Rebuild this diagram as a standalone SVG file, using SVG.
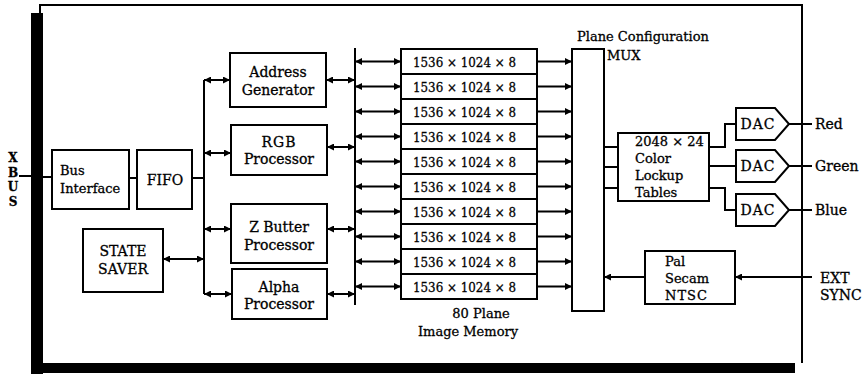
<svg xmlns="http://www.w3.org/2000/svg" width="863" height="374" viewBox="0 0 863 374">
<style>
  .bg{fill:#fff}
  .box{fill:#fff;stroke:#000;stroke-width:2}
  .ln{fill:none;stroke:#000;stroke-width:2}
  .t{font-family:"DejaVu Serif","Liberation Serif",serif;font-size:14px;fill:#000;stroke:#000;stroke-width:0.3}
  .c{text-anchor:middle}
  .m{font-size:13.5px}
  .s{font-size:13px}
  .x{font-size:12px;font-weight:bold}
  .bi{marker-start:url(#ah);marker-end:url(#ah)}
  .one{marker-end:url(#ah)}
</style>
<defs>
  <marker id="ah" viewBox="0 0 10 10" refX="10" refY="5" markerWidth="7" markerHeight="7" markerUnits="userSpaceOnUse" orient="auto-start-reverse">
    <path d="M0,0 L10,5 L0,10 z" fill="#000"/>
  </marker>
</defs>
<rect class="bg" x="0" y="0" width="863" height="374"/>

<g id="frame">
  <path class="ln" d="M40,13 V5 H802 V363"/>
  <rect x="31" y="13" width="12" height="361" fill="#000"/>
  <rect x="31" y="363" width="764" height="10" fill="#000"/>
</g>

<g id="xbus-label">
  <text class="t c x" x="13" y="162">X</text>
  <text class="t c x" x="13" y="176.5">B</text>
  <text class="t c x" x="13" y="191">U</text>
  <text class="t c x" x="13" y="205.5">S</text>
</g>

<g id="connectors">
  <path class="ln" d="M19,176 H31"/>
  <path class="ln" d="M43,177 H52"/>
  <path class="ln" d="M129,178 H137"/>
  <path class="ln" d="M192,178 H204"/>
  <path class="ln" d="M204,80 V294"/>
  <path class="ln bi" d="M204,80 H230"/>
  <path class="ln bi" d="M204,153 H231"/>
  <path class="ln bi" d="M204,229 H231"/>
  <path class="ln bi" d="M204,294 H232"/>
  <path class="ln bi" d="M163,259 H204"/>
  <path class="ln" d="M355,48 V305"/>
  <path class="ln bi" d="M326,80 H355"/>
  <path class="ln bi" d="M327,147 H355"/>
  <path class="ln bi" d="M327,229 H355"/>
  <path class="ln bi" d="M327,294 H355"/>
  <path class="ln bi" d="M355,61.5 H401"/>
  <path class="ln bi" d="M355,86.5 H401"/>
  <path class="ln bi" d="M355,111.5 H401"/>
  <path class="ln bi" d="M355,136.5 H401"/>
  <path class="ln bi" d="M355,161.5 H401"/>
  <path class="ln bi" d="M355,186.5 H401"/>
  <path class="ln bi" d="M355,211.5 H401"/>
  <path class="ln bi" d="M355,236.5 H401"/>
  <path class="ln bi" d="M355,261.5 H401"/>
  <path class="ln bi" d="M355,286.5 H401"/>
  <path class="ln one" d="M537,61.5 H572"/>
  <path class="ln one" d="M537,86.5 H572"/>
  <path class="ln one" d="M537,111.5 H572"/>
  <path class="ln one" d="M537,136.5 H572"/>
  <path class="ln one" d="M537,161.5 H572"/>
  <path class="ln one" d="M537,186.5 H572"/>
  <path class="ln one" d="M537,211.5 H572"/>
  <path class="ln one" d="M537,236.5 H572"/>
  <path class="ln one" d="M537,261.5 H572"/>
  <path class="ln one" d="M537,286.5 H572"/>
  <path class="ln" d="M604,147 H618"/>
  <path class="ln" d="M604,167 H618"/>
  <path class="ln" d="M604,188 H618"/>
  <path class="ln" d="M709,147 H725 V124 H736"/>
  <path class="ln" d="M709,166 H736"/>
  <path class="ln" d="M709,188 H725 V210 H736"/>
  <path class="ln" d="M789,124 H812"/>
  <path class="ln" d="M789,166 H812"/>
  <path class="ln" d="M789,210 H812"/>
  <path class="ln one" d="M812,277 H735"/>
  <path class="ln one" d="M645,277 H604"/>
</g>

<g id="bus-interface">
  <rect class="box" x="52" y="150" width="77" height="59"/>
  <text class="t s" x="60" y="175">Bus</text>
  <text class="t s" x="60" y="193">Interface</text>
</g>
<g id="fifo">
  <rect class="box" x="137" y="150" width="55" height="59"/>
  <text class="t c" x="165" y="185">FIFO</text>
</g>
<g id="state-saver">
  <rect class="box" x="83" y="229" width="80" height="63"/>
  <text class="t c" x="123" y="256">STATE</text>
  <text class="t c" x="123" y="274">SAVER</text>
</g>
<g id="address-generator">
  <rect class="box" x="230" y="53" width="96" height="54"/>
  <text class="t c" x="278" y="77">Address</text>
  <text class="t c" x="278" y="95">Generator</text>
</g>
<g id="rgb-processor">
  <rect class="box" x="231" y="125" width="96" height="50"/>
  <text class="t c" x="279" y="147" letter-spacing="1">RGB</text>
  <text class="t c" x="279" y="164">Processor</text>
</g>
<g id="zbuffer-processor">
  <rect class="box" x="231" y="204" width="96" height="59"/>
  <text class="t c" x="279" y="232">Z Butter</text>
  <text class="t c" x="279" y="250">Processor</text>
</g>
<g id="alpha-processor">
  <rect class="box" x="232" y="269" width="95" height="50"/>
  <text class="t c" x="279" y="292">Alpha</text>
  <text class="t c" x="279" y="309">Processor</text>
</g>

<g id="image-memory">
  <rect class="box" x="401" y="49" width="136" height="25"/>
  <rect class="box" x="401" y="74" width="136" height="25"/>
  <rect class="box" x="401" y="99" width="136" height="25"/>
  <rect class="box" x="401" y="124" width="136" height="25"/>
  <rect class="box" x="401" y="149" width="136" height="25"/>
  <rect class="box" x="401" y="174" width="136" height="25"/>
  <rect class="box" x="401" y="199" width="136" height="25"/>
  <rect class="box" x="401" y="224" width="136" height="25"/>
  <rect class="box" x="401" y="249" width="136" height="25"/>
  <rect class="box" x="401" y="274" width="136" height="25"/>
  <text class="t m" x="413" y="66.5" textLength="103" lengthAdjust="spacingAndGlyphs">1536 × 1024 × 8</text>
  <text class="t m" x="413" y="91.5" textLength="103" lengthAdjust="spacingAndGlyphs">1536 × 1024 × 8</text>
  <text class="t m" x="413" y="116.5" textLength="103" lengthAdjust="spacingAndGlyphs">1536 × 1024 × 8</text>
  <text class="t m" x="413" y="141.5" textLength="103" lengthAdjust="spacingAndGlyphs">1536 × 1024 × 8</text>
  <text class="t m" x="413" y="166.5" textLength="103" lengthAdjust="spacingAndGlyphs">1536 × 1024 × 8</text>
  <text class="t m" x="413" y="191.5" textLength="103" lengthAdjust="spacingAndGlyphs">1536 × 1024 × 8</text>
  <text class="t m" x="413" y="216.5" textLength="103" lengthAdjust="spacingAndGlyphs">1536 × 1024 × 8</text>
  <text class="t m" x="413" y="241.5" textLength="103" lengthAdjust="spacingAndGlyphs">1536 × 1024 × 8</text>
  <text class="t m" x="413" y="266.5" textLength="103" lengthAdjust="spacingAndGlyphs">1536 × 1024 × 8</text>
  <text class="t m" x="413" y="291.5" textLength="103" lengthAdjust="spacingAndGlyphs">1536 × 1024 × 8</text>
  <text class="t c s" x="481" y="318">80 Plane</text>
  <text class="t c s" x="468" y="336">Image Memory</text>
</g>

<g id="mux">
  <rect class="box" x="572" y="49" width="32" height="262"/>
  <text class="t s" x="577" y="41">Plane Configuration</text>
  <text class="t s" x="607" y="60">MUX</text>
</g>

<g id="color-lookup-tables">
  <rect class="box" x="618" y="133" width="91" height="68"/>
  <text class="t s" x="635" y="146">2048 × 24</text>
  <text class="t s" x="635" y="163">Color</text>
  <text class="t s" x="635" y="180">Lockup</text>
  <text class="t s" x="635" y="197">Tables</text>
</g>

<g id="dac-red">
  <path class="box" d="M736,108 H775 L789,124 L775,140 H736 Z"/>
  <text class="t c" x="758" y="129" letter-spacing="1">DAC</text>
  <text class="t" x="815" y="129">Red</text>
</g>
<g id="dac-green">
  <path class="box" d="M736,150 H775 L789,166 L775,182 H736 Z"/>
  <text class="t c" x="758" y="171" letter-spacing="1">DAC</text>
  <text class="t" x="815" y="171">Green</text>
</g>
<g id="dac-blue">
  <path class="box" d="M736,194 H775 L789,210 L775,226 H736 Z"/>
  <text class="t c" x="758" y="215" letter-spacing="1">DAC</text>
  <text class="t" x="815" y="215">Blue</text>
</g>

<g id="pal-secam-ntsc">
  <rect class="box" x="645" y="251" width="90" height="53"/>
  <text class="t s" x="665" y="266">Pal</text>
  <text class="t s" x="665" y="283">Secam</text>
  <text class="t s" x="665" y="300" letter-spacing="1">NTSC</text>
</g>

<g id="ext-sync-label">
  <text class="t" x="820" y="283">EXT</text>
  <text class="t" x="820" y="300">SYNC</text>
</g>
</svg>
